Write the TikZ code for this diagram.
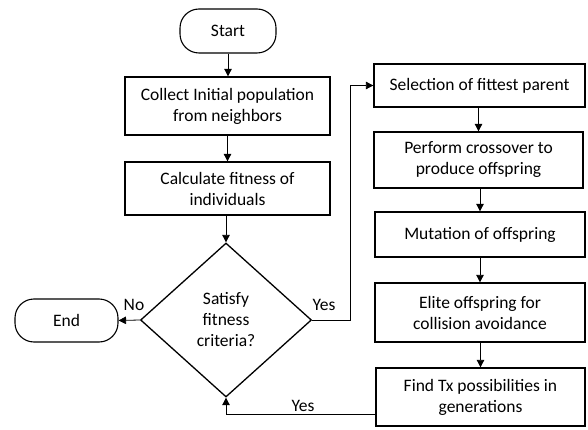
\documentclass[tikz,border=0pt]{standalone}
\usepackage{fontspec}
\setmainfont{Carlito}
\usetikzlibrary{shapes.geometric,arrows.meta}
\begin{document}
\begin{tikzpicture}[x=1pt,y=-1pt,
  font=\fontsize{17.5}{21}\selectfont,
  box/.style={draw,line width=1.3pt,rectangle,align=center,inner sep=0pt},
  term/.style={draw,line width=1.1pt,rounded corners=19pt,align=center,inner sep=0pt},
  dec/.style={draw,line width=1.3pt,diamond,align=center,inner sep=0pt},
  conn/.style={line width=0.8pt,-{Triangle[length=7.5pt,width=7.5pt]}},
  lbl/.style={inner sep=0pt}]
\useasboundingbox (0,0) rectangle (588,430);
\node[term,minimum width=96pt,minimum height=44pt] (start) at (228,31) {Start};
\node[box,minimum width=205pt,minimum height=58pt] (collect) at (227.5,106) {Collect Initial population\\from neighbors};
\node[box,minimum width=205pt,minimum height=53pt] (calc) at (227.5,188.5) {Calculate fitness of\\individuals};
\node[dec,minimum width=171pt,minimum height=154pt] (sat) at (226,320) {Satisfy\\fitness\\criteria?};
\node[term,minimum width=103pt,minimum height=43pt] (end) at (66.5,320.5) {End};
\node[box,minimum width=211pt,minimum height=43pt] (sel) at (479.5,85.5) {Selection of fittest parent};
\node[box,minimum width=209pt,minimum height=56pt] (cross) at (478.5,160) {Perform crossover to\\produce offspring};
\node[box,minimum width=210pt,minimum height=45pt] (mut) at (480,234.5) {Mutation of offspring};
\node[box,minimum width=210pt,minimum height=59pt] (elite) at (480,312.5) {Elite offspring for\\collision avoidance};
\node[box,minimum width=209pt,minimum height=58pt] (find) at (480.5,397) {Find Tx possibilities in\\generations};
\coordinate (c1) at (350,320);
\coordinate (c2) at (350,85.5);
\coordinate (c3) at (376,414);
\coordinate (c4) at (226,414);
\draw[conn] (start) -- (start |- collect.north);
\draw[conn] (collect) -- (collect |- calc.north);
\draw[conn] (calc.south -| sat) -- (sat.north);
\draw[conn] (sat.west) -- (end.east);
\draw[conn] (sat.east) -- (c1) -- (c2) -- (sel.west);
\draw[conn] (sel.south -| cross) -- (cross.north);
\draw[conn] (cross.south -| mut) -- (mut.north);
\draw[conn] (mut.south) -- (elite.north);
\draw[conn] (elite.south -| find) -- (find.north);
\draw[conn] (c3) -- (c4) -- (sat.south);
\node[lbl] (no) at (134,305) {No};
\node[lbl] (yes1) at (324,305) {Yes};
\node[lbl] (yes2) at (303,406) {Yes};
\end{tikzpicture}
\end{document}
